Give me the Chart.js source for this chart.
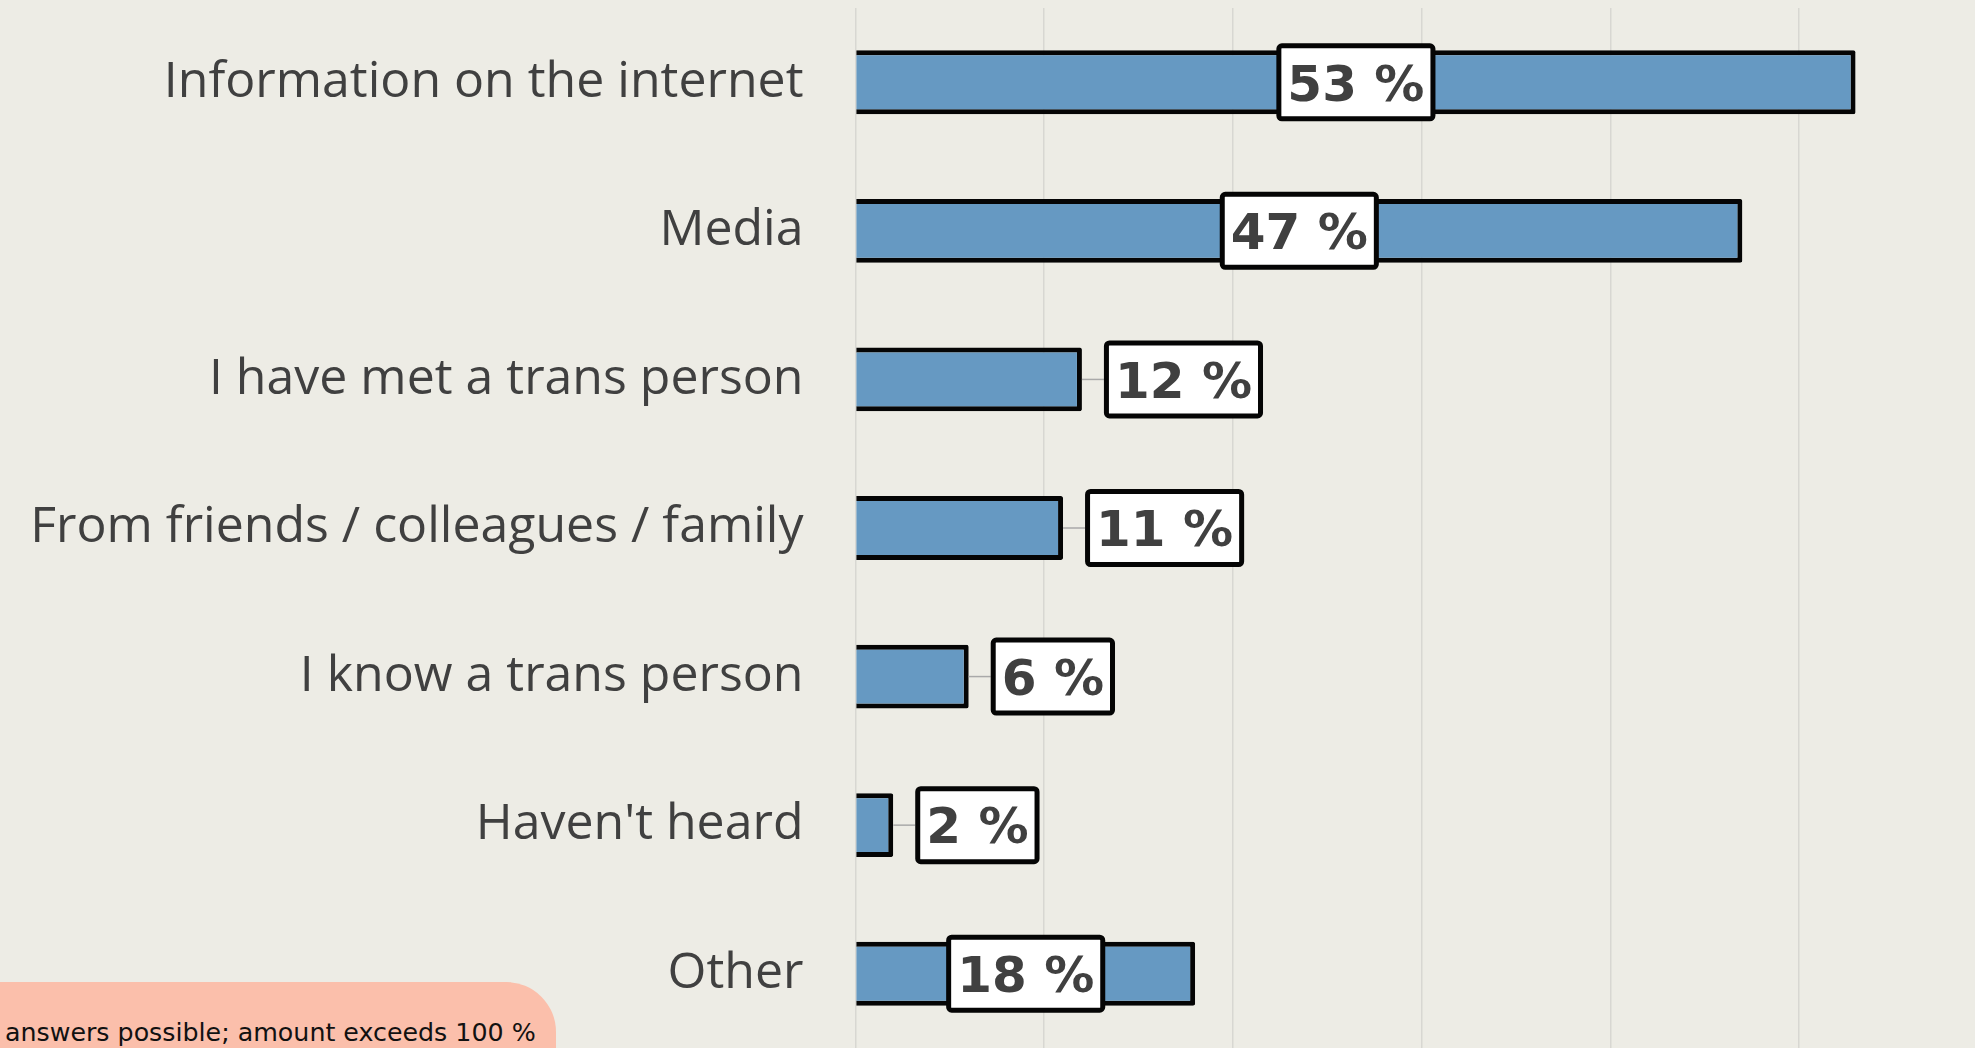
<!DOCTYPE html>
<html>
<head>
<meta charset="utf-8">
<script src="https://cdn.jsdelivr.net/npm/chart.js@4.4.1/dist/chart.umd.min.js"></script>
<style>
  html, body { margin: 0; padding: 0; background: #edece5; overflow: hidden; }
  #wrap { position: relative; width: 1975px; height: 1048px; }
  #note {
    position: absolute; left: 0; top: 982px; width: 556px; height: 120px;
    background: #fbbfab; border-top-right-radius: 50px;
  }
  #note span {
    position: absolute; left: 5px; top: 38px; line-height: 1;
    font-family: "DejaVu Sans", sans-serif; font-size: 25.3px; color: #111; white-space: nowrap;
  }
</style>
</head>
<body>
<div id="wrap">
  <canvas id="chart" width="1975" height="1048"></canvas>
  <div id="note"><span>answers possible; amount exceeds 100 %</span></div>
</div>
<script>
const categories = [
  'Information on the internet',
  'Media',
  'I have met a trans person',
  'From friends / colleagues / family',
  'I know a trans person',
  "Haven't heard",
  'Other'
];
const shares = [53, 47, 12, 11, 6, 2, 18];
const gridSteps = [0, 10, 20, 30, 40, 50];

// white boxes with the percentage, inside long bars, beside short ones
const boxLabels = {
  id: 'boxLabels',
  afterDatasetsDraw(chart) {
    const ctx = chart.ctx;
    const meta = chart.getDatasetMeta(0);
    const fontSize = 50;
    ctx.save();
    ctx.font = 'bold ' + fontSize + 'px "DejaVu Sans"';
    meta.data.forEach((bar, i) => {
      const text = shares[i] + ' %';
      const w = ctx.measureText(text).width + 22;
      const h = 78;
      const len = bar.x - bar.base;
      let cx;
      if (len >= w * 2) {
        cx = (bar.x + bar.base) / 2;
      } else {
        cx = bar.x + 22 + w / 2;
        ctx.strokeStyle = '#a9a9a9';
        ctx.lineWidth = 1.5;
        ctx.beginPath();
        ctx.moveTo(bar.x, bar.y);
        ctx.lineTo(cx - w / 2, bar.y);
        ctx.stroke();
      }
      const cy = bar.y;
      ctx.beginPath();
      ctx.roundRect(cx - w / 2 + 2.5, cy - h / 2 + 2.5, w - 5, h - 5, 3);
      ctx.fillStyle = '#fff';
      ctx.fill();
      ctx.lineWidth = 5;
      ctx.strokeStyle = '#050505';
      ctx.stroke();
      ctx.fillStyle = '#404040';
      ctx.textAlign = 'center';
      ctx.textBaseline = 'alphabetic';
      ctx.fillText(text, cx, cy + fontSize * 0.729 / 2);
    });
    ctx.restore();
  }
};

new Chart(document.getElementById('chart'), {
  type: 'bar',
  data: {
    labels: categories,
    datasets: [{
      data: shares,
      backgroundColor: '#6699c2',
      borderColor: '#050505',
      borderWidth: 5,
      borderSkipped: 'start',
      borderRadius: 2,
      barPercentage: 0.43,
      categoryPercentage: 1
    }]
  },
  options: {
    indexAxis: 'y',
    responsive: false,
    animation: false,
    layout: { padding: { top: 8, right: 0, bottom: 0, left: 0 } },
    plugins: { legend: { display: false }, tooltip: { enabled: false } },
    scales: {
      x: {
        min: 0,
        max: 59.33,
        ticks: { display: false, stepSize: 10 },
        grid: { color: '#d8d7d2', lineWidth: 1.5, drawTicks: false },
        border: { display: false },
        afterBuildTicks: s => { s.ticks = gridSteps.map(v => ({ value: v })); },
        afterFit: s => { s.height = 0; s.paddingLeft = 0; s.paddingRight = 0; }
      },
      y: {
        ticks: { color: '#404040', font: { family: 'Open Sans', size: 50 }, padding: 52 },
        grid: { display: false, drawTicks: false },
        border: { display: false },
        afterFit: s => { s.width = 855.5; s.paddingTop = 0; s.paddingBottom = 0; }
      }
    }
  },
  plugins: [boxLabels]
});
</script>
</body>
</html>
